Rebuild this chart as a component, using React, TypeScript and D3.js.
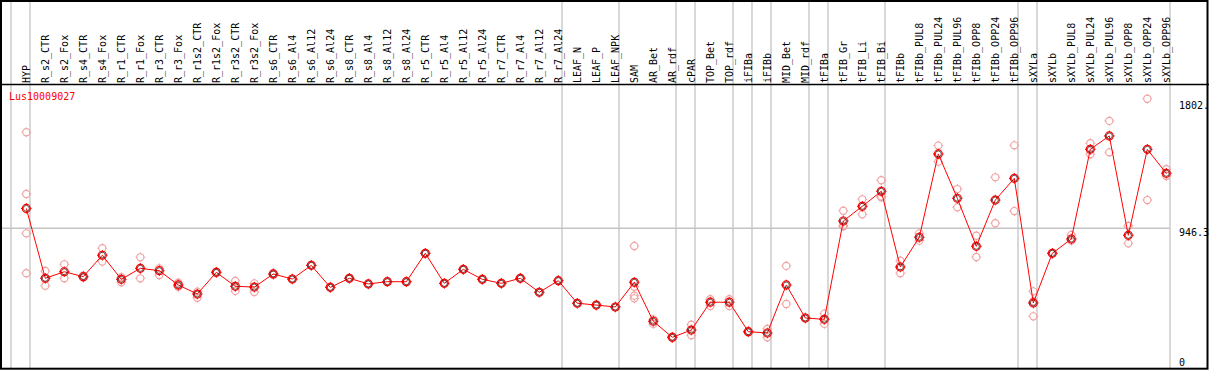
import React, { useEffect } from "react";
import * as d3 from "d3";

const geneId = "Lus10009027";

const groups: string[][] = [
  ["HYP"],
  [
    "R_s2_CTR", "R_s2_Fox", "R_s4_CTR", "R_s4_Fox", "R_r1_CTR", "R_r1_Fox", "R_r3_CTR", "R_r3_Fox",
    "R_r1s2_CTR", "R_r1s2_Fox", "R_r3s2_CTR", "R_r3s2_Fox",
    "R_s6_CTR", "R_s6_Al4", "R_s6_Al12", "R_s6_Al24",
    "R_s8_CTR", "R_s8_Al4", "R_s8_Al12", "R_s8_Al24",
    "R_r5_CTR", "R_r5_Al4", "R_r5_Al12", "R_r5_Al24",
    "R_r7_CTR", "R_r7_Al4", "R_r7_Al12", "R_r7_Al24",
  ],
  ["LEAF_N", "LEAF_P", "LEAF_NPK"],
  ["SAM", "AR_Bet", "AR_rdf"],
  ["cPAR"],
  ["TOP_Bet", "TOP_rdf"],
  ["iFIBa"],
  ["iFIBb"],
  ["MID_Bet", "MID_rdf"],
  ["tFIBa"],
  ["tFIB_Gr", "tFIB_Li", "tFIB_Bi"],
  ["tFIBb", "tFIBb_PUL8", "tFIBb_PUL24", "tFIBb_PUL96", "tFIBb_OPP8", "tFIBb_OPP24", "tFIBb_OPP96"],
  ["sXYLa"],
  ["sXYLb", "sXYLb_PUL8", "sXYLb_PUL24", "sXYLb_PUL96", "sXYLb_OPP8", "sXYLb_OPP24", "sXYLb_OPP96"],
];

const samples: string[] = groups.flat();

const meanValues: number[] = [
  1080, 610, 654, 621, 765, 603, 677, 661, 565, 504, 650, 556, 551,
  639, 605, 697, 549, 610, 572, 587, 587, 778, 576, 670, 603, 576, 610, 516, 594,
  442, 430, 417,
  583, 321, 213,
  262,
  449, 449,
  251,
  242,
  565, 343,
  334,
  995, 1094, 1195,
  686, 886, 1446, 1148, 825, 1136, 1282,
  444,
  778, 874, 1477, 1567, 899, 1477, 1316,
];

const replicateValues: number[][] = [
  [1592, 1177, 912, 644],
  [659, 560], [704, 610], [627, 614], [812, 722], [617, 583], [751, 610], [677, 632], [580, 553],
  [520, 479], [645, 655], [592, 525], [576, 518],
  [634, 644], [605, 605], [697, 697], [549, 549],
  [610, 610], [572, 572], [587, 587], [587, 587],
  [778, 778], [576, 576], [670, 670], [603, 603],
  [576, 576], [610, 610], [516, 516], [594, 594],
  [442, 442], [430, 430], [417, 417],
  [827, 553, 493, 475], [334, 303], [218, 208],
  [298, 227],
  [469, 424], [469, 424],
  [255, 247],
  [269, 213],
  [693, 437], [345, 341],
  [372, 303],
  [1064, 960, 962], [1141, 1040], [1269, 1155, 1160],
  [728, 644], [912, 863], [1502, 1394], [1210, 1087], [896, 753], [1289, 980], [1504, 1062],
  [522, 354, 455],
  [778, 778], [901, 863], [1518, 1444], [1668, 1457], [962, 845], [1817, 1136], [1343, 1298],
];

const yTickValues: number[] = [1802, 946.3, 0];
const yTickLabels: string[] = ["1802.", "946.3", "0"];
const gridValue = 946.3;

const W = 1209;
const H = 370;
const FONT = "'DejaVu Sans Mono', 'Liberation Mono', monospace";
const RED = "#ff0000";
const PALE = "#f0a0a0";
const GRID = "#c4c4c4";

function Marker({ cx, cy, color, r, sw }: { cx: number; cy: number; color: string; r: number; sw: number }) {
  const t = r + 1.3;
  return (
    <g>
      <circle cx={cx} cy={cy} r={r} fill="none" stroke={color} strokeWidth={sw} />
      <line x1={cx} x2={cx} y1={cy - r} y2={cy - t} stroke={color} strokeWidth={1} />
      <line x1={cx} x2={cx} y1={cy + r} y2={cy + t} stroke={color} strokeWidth={1} />
      <line x1={cx - r} x2={cx - t} y1={cy} y2={cy} stroke={color} strokeWidth={1} />
      <line x1={cx + r} x2={cx + t} y1={cy} y2={cy} stroke={color} strokeWidth={1} />
    </g>
  );
}

export default function App() {
  useEffect(() => {
    document.body.style.margin = "0";
  }, []);

  const x = d3
    .scalePoint<string>()
    .domain(samples)
    .range([26.3, 26.3 + 19 * (samples.length - 1)]);
  const step = x.step();
  const y = d3.scaleLinear().domain([0, 1802]).range([369, 101]);

  // group separator positions
  const boundaries: number[] = [0];
  let acc = 0;
  groups.forEach((g) => {
    acc += g.length;
    boundaries.push(acc);
  });
  const sepX = (k: number) => 26.3 + step * k - 15.3;

  const linePath = d3
    .line<number>()
    .x((_, i) => x(samples[i]) as number)
    .y((d) => y(d))(meanValues) as string;

  const axisX = sepX(samples.length);

  return (
    <svg
      width={W}
      height={H}
      style={{ display: "block", position: "absolute", left: 0, top: 0, background: "#fff" }}
      fontFamily={FONT}
    >
      <rect x={0} y={0} width={W} height={H} fill="#fff" />
      {/* vertical separators */}
      {boundaries.map((k, i) => (
        <line key={"v" + i} x1={sepX(k)} x2={sepX(k)} y1={0} y2={369} stroke={GRID} strokeWidth={1.3} />
      ))}
      {/* horizontal grid */}
      <line x1={0} x2={axisX} y1={y(gridValue)} y2={y(gridValue)} stroke={GRID} strokeWidth={1.3} />
      {/* header line */}
      <line x1={0} x2={W} y1={84.5} y2={84.5} stroke="#000" strokeWidth={1.3} />
      {/* column labels */}
      {samples.map((s) => (
        <text
          key={"l" + s}
          transform={`translate(${x(s)},83) rotate(-90)`}
          fontSize={10}
          dominantBaseline="central"
          fill="#000"
        >
          {s}
        </text>
      ))}
      {/* gene id */}
      <text x={9} y={100} fontSize={10} fill={RED}>
        {geneId}
      </text>
      {/* replicates */}
      {replicateValues.map((reps, i) =>
        reps.map((v, j) => (
          <Marker key={`r${i}-${j}`} cx={x(samples[i]) as number} cy={y(v)} color={PALE} r={3.6} sw={1.1} />
        ))
      )}
      {/* mean line */}
      <path d={linePath} fill="none" stroke={RED} strokeWidth={1} />
      {meanValues.map((v, i) => (
        <g key={"m" + i}>
          <Marker cx={x(samples[i]) as number} cy={y(v)} color={RED} r={4} sw={1.2} />
          <circle cx={x(samples[i]) as number} cy={y(v)} r={3} fill="none" stroke="#300000" strokeWidth={0.7} />
        </g>
      ))}
      {/* right axis labels */}
      {yTickValues.map((v, i) => (
        <text
          key={"t" + i}
          x={axisX + 9}
          y={v === 0 ? y(v) - 3 : y(v) + 1}
          dominantBaseline={v === 0 ? "auto" : "hanging"}
          fontSize={10}
          fill="#000"
        >
          {yTickLabels[i]}
        </text>
      ))}
      {/* border */}
      <rect x={1} y={1} width={1206.5} height={367.7} fill="none" stroke="#000" strokeWidth={2} />
    </svg>
  );
}
